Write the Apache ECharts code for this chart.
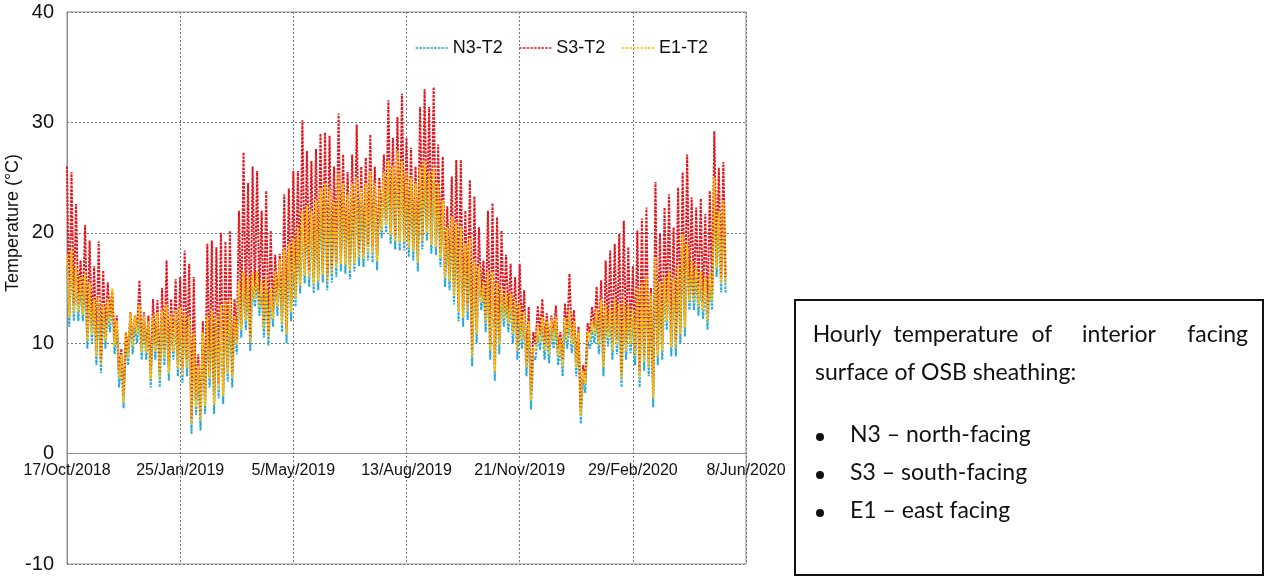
<!DOCTYPE html>
<html>
<head>
<meta charset="utf-8">
<script src="https://cdn.jsdelivr.net/npm/echarts@6/dist/echarts.min.js"></script>
<style>
  html, body { margin: 0; padding: 0; background: #fff; }
  #main { width: 1269px; height: 577px; }
</style>
</head>
<body>
<div id="main"></div>
<script>
// days since 17/Oct/2018; daily highs on days 0,4,8..., daily lows on days 2,6,10...
var STEP_DAYS = 2;
var tickLabels = ['17/Oct/2018', '25/Jan/2019', '5/May/2019', '13/Aug/2019', '21/Nov/2019', '29/Feb/2020', '8/Jun/2020'];

var s3Peaks = [
    26, 25.5, 22.6, 17.5, 20.7, 19.3, 17, 19.2, 16.6, 15.5,
    14.8, 12.5, 9.5, 11, 12.8, 12.5, 15.7, 12.8, 12.5, 14,
    13.9, 15, 17.5, 14, 15.8, 16, 18.4, 17.2, 16, 9,
    12, 19, 19.3, 18.7, 20, 19.2, 20.2, 14, 22, 27.3,
    24.5, 26, 25.6, 22, 23.8, 20.2, 18, 18.1, 23.5, 24,
    25.6, 25.6, 30.2, 27.4, 26.5, 27.6, 29, 29.1, 28.8, 26,
    30.8, 27.1, 25.5, 27.1, 29.8, 26, 26.8, 28.9, 26, 25,
    27.1, 32, 28.6, 30.5, 32.6, 28.6, 27.7, 26, 31.4, 33,
    31.4, 33.2, 28, 26.9, 22.4, 25.1, 26.6, 26.6, 22, 24.8,
    23.3, 20.5, 17.5, 22, 22.7, 21.4, 20.2, 18, 17.2, 16,
    17.2, 14.8, 13.3, 11, 13.4, 14, 12.7, 12.5, 13.4, 11,
    13.6, 16.3, 13, 11.5, 8, 11.8, 13.3, 15.1, 15.7, 17.5,
    18.4, 19, 19.9, 21.1, 18.7, 17, 20.2, 21.3, 22.3, 15,
    24.6, 19.9, 22.3, 23.5, 20.5, 24.1, 25.5, 27.1, 23.2, 22.3,
    23.1, 21.7, 23.8, 29.2, 25.9, 26.4
];
var s3Troughs = [
    12.8, 13.5, 13.4, 13.2, 10.8, 11.4, 9.4, 8.6, 10.8, 12.3,
    10.3, 7.4, 5.2, 9.3, 10.3, 11.4, 9.8, 9.7, 7.3, 9.8,
    7.4, 9.3, 7.9, 9.8, 8.3, 7.7, 8.4, 3.2, 4.8, 3.5,
    4.9, 7.4, 5, 6.4, 5.8, 7.8, 7.4, 10.4, 11.8, 12.6,
    10.6, 14.6, 13.8, 11.9, 11.1, 12.8, 13.9, 12.4, 11.4, 13.4,
    14.7, 15.8, 16.7, 16.5, 15.9, 16.2, 16.8, 16.2, 16.9, 17.4,
    17.8, 17.7, 17.2, 17.8, 18.4, 18.2, 18.8, 18.7, 18, 20.8,
    21.3, 20.4, 19.8, 19.7, 19.8, 19.2, 18.9, 17.9, 19.8, 20.6,
    19.5, 19.3, 18.3, 16.5, 16.2, 14.9, 13.4, 12.9, 13.5, 9.3,
    11.4, 14.3, 12.4, 9.9, 8, 10.4, 12.8, 12.4, 11.4, 9.9,
    10.9, 8.4, 5.4, 9.9, 10.7, 9.9, 9.6, 10.9, 9.4, 8.4,
    10.9, 10.5, 8.4, 4, 6.9, 10.9, 11.4, 10.4, 8.4, 11.1,
    9.9, 10.4, 7.4, 9.9, 10.5, 9.4, 7.4, 8.9, 8.4, 5.6,
    9.4, 9.9, 12.6, 10.2, 10.2, 11.4, 12, 14.4, 14.4, 13.9,
    13.6, 12.6, 14.4, 17.4, 16, 16
];

var e1Peaks = [
    18, 18.5, 17, 16, 16.3, 15.5, 14, 14.2, 13.5, 14,
    15, 12, 9, 11, 12.7, 12.5, 13.5, 12.5, 12, 12.5,
    12.8, 13, 13.5, 12.5, 13, 13.2, 12.8, 12.5, 11, 8,
    11, 12.5, 13, 12.5, 13.5, 13.8, 14, 12.5, 15.5, 16.5,
    16, 16.3, 16.5, 15.5, 16, 15, 16.5, 17.5, 18.5, 19,
    19.5, 20.5, 22, 22.5, 22, 23, 24, 24.5, 24, 23,
    25.5, 24.5, 23.5, 24.5, 25, 24, 24.5, 25.5, 24.5, 24,
    25.5, 26.5, 26, 27.4, 26.5, 25.5, 25, 24.5, 26, 26.5,
    25.5, 26, 24.5, 23, 20.5, 21.5, 21, 20.5, 19, 19.5,
    17.5, 17, 15.5, 16.5, 16.5, 15.5, 15, 14.5, 14.5, 14,
    13.5, 12.8, 12, 9.5, 11.5, 12.4, 12, 12.2, 12.4, 10.5,
    12.3, 13, 12, 11, 7.5, 11, 12, 13, 13.9, 13.5,
    13, 14, 13.5, 13.8, 13.5, 13, 15, 15.5, 16, 14.5,
    17.8, 15.5, 16, 16.5, 16, 17, 19.9, 19, 17.5, 17,
    16.5, 16, 16.3, 25, 22, 22.9
];
var e1Troughs = [
    12.3, 12.7, 12.8, 12.6, 10.2, 10.8, 8.8, 8, 10.2, 11.7,
    9.7, 6.8, 4.6, 8.7, 9.7, 10.8, 9.2, 9.1, 6.7, 9.2,
    6.8, 8.7, 7.3, 9.2, 7.7, 7.1, 7.8, 2.6, 4.2, 2.9,
    4.3, 6.8, 4.4, 5.8, 5.2, 7.2, 6.8, 9.8, 11.2, 12,
    10, 14, 13.2, 11.3, 10.5, 12.2, 13.3, 11.8, 10.8, 12.8,
    14.1, 15.2, 16.1, 15.9, 15.3, 15.6, 16.2, 15.6, 16.3, 16.8,
    17.2, 17.1, 16.6, 17.2, 17.8, 17.6, 18.2, 18.1, 17.4, 20.2,
    20.7, 19.8, 19.2, 19.1, 19.2, 18.6, 18.3, 17.3, 19.2, 20,
    18.9, 18.7, 17.7, 15.9, 15.6, 14.3, 12.8, 12.3, 12.9, 8.7,
    10.8, 13.7, 11.8, 9.3, 7.4, 9.8, 12.2, 11.8, 10.8, 9.3,
    10.3, 7.8, 4.8, 9.3, 10.1, 9.3, 9, 10.3, 8.8, 7.8,
    10.3, 9.9, 7.8, 3.4, 6.3, 10.3, 10.8, 9.8, 7.8, 10.5,
    9.3, 9.8, 6.8, 9.3, 9.9, 8.8, 6.8, 8.3, 7.8, 5,
    8.8, 9.3, 12, 9.6, 9.6, 10.8, 11.4, 13.8, 13.8, 13.3,
    13, 12, 13.8, 16.8, 15.4, 15.4
];

var n3Peaks = [
    17, 17.5, 16, 15, 15.5, 14.5, 13.2, 13.5, 12.8, 13,
    14, 11.2, 8.2, 10.2, 11.8, 11.5, 12.5, 11.8, 11.2, 11.8,
    12, 12.2, 12.5, 11.8, 12.2, 12.3, 12, 11.8, 10.2, 7.2,
    10.2, 11.5, 12.2, 11.8, 12.5, 12.8, 13, 11.8, 14.5, 15.3,
    15, 15.2, 15.5, 14.5, 15, 14.2, 15.5, 16.5, 17.3, 17.8,
    18.3, 19.2, 20.5, 21, 20.8, 21.5, 22.5, 23, 22.5, 21.8,
    24, 23, 22.3, 23, 23.5, 22.8, 23.2, 24, 23.2, 22.8,
    24, 25, 24.5, 25.8, 25, 24.2, 23.8, 23.2, 24.5, 25,
    24.2, 24.5, 23.2, 21.8, 19.5, 20.2, 19.8, 19.3, 18, 18.3,
    16.5, 16, 14.7, 15.5, 15.5, 14.6, 14.2, 13.8, 13.6, 13.2,
    12.7, 12, 11.2, 8.8, 10.8, 11.6, 11.2, 11.4, 11.6, 9.8,
    11.5, 12.2, 11.2, 10.3, 6.8, 10.2, 11.2, 12.2, 13, 12.6,
    12.2, 13, 12.6, 12.9, 12.6, 12.2, 14, 14.5, 15, 13.5,
    16.5, 14.5, 15, 15.5, 15, 16, 18.5, 17.8, 16.5, 16,
    15.5, 15, 15.3, 23.5, 20.8, 21.5
];
var n3Troughs = [
    11.5, 12, 12, 12, 9.5, 10, 8, 7.3, 9.5, 11,
    9, 6, 4.1, 8, 9, 10, 8.5, 8.5, 6, 8.5,
    6, 8, 6.6, 8.5, 7, 6.4, 7, 1.8, 3.5, 2.1,
    3.6, 6, 3.6, 5, 4.5, 6.5, 6, 9, 10.5, 11.2,
    9.3, 13.3, 12.5, 10.5, 9.8, 11.5, 12.5, 11, 10, 12,
    13.3, 14.5, 15.4, 15.1, 14.5, 14.8, 15.5, 14.8, 15.5, 16,
    16.5, 16.3, 15.8, 16.5, 17, 16.9, 17.5, 17.3, 16.6, 19.5,
    20, 19, 18.5, 18.4, 18.4, 17.8, 17.5, 16.5, 18.5, 19.3,
    18.1, 18, 16.9, 15.1, 14.8, 13.5, 12, 11.5, 12.1, 7.9,
    10, 13, 11, 8.5, 6.6, 9, 11.5, 11, 10, 8.5,
    9.5, 7, 4, 8.5, 9.4, 8.5, 8.2, 9.5, 8, 7,
    9.5, 9.1, 7, 2.7, 5.5, 9.5, 10, 9, 7, 9.7,
    8.5, 9, 6, 8.5, 9.1, 8, 6, 7.5, 7, 4.2,
    8, 8.5, 11.2, 8.8, 8.8, 10, 10.6, 13, 13, 12.5,
    12.2, 11.2, 13, 16, 14.6, 14.6
];

function toSeriesData(peaks, troughs) {
    var out = [];
    for (var i = 0; i < peaks.length; i++) {
        out.push([i * 2 * STEP_DAYS, peaks[i]]);
        if (i < troughs.length) out.push([(i * 2 + 1) * STEP_DAYS, troughs[i]]);
    }
    return out;
}

var chart = echarts.init(document.getElementById('main'));

function lineSeries(name, color, peaks, troughs) {
    return {
        name: name,
        type: 'line',
        symbol: 'none',
        showSymbol: false,
        lineStyle: { color: color, width: 2, type: [2.5, 1.2] },
        itemStyle: { color: color },
        data: toSeriesData(peaks, troughs)
    };
}

var yMin = -10, yMax = 40;
var gridTop = 12, gridBottom = 13;
// move the x axis up onto the 0 line, labels with it
var xAxisOffset = -(0 - yMin) * (577 - gridTop - gridBottom) / (yMax - yMin);

var textFont = '23px Lato, "Open Sans", sans-serif';
var axisFont = '"Liberation Sans", Arial, sans-serif';

option = {
    backgroundColor: '#fff',
    animation: false,
    grid: {
        left: 67,
        right: 523,
        top: gridTop,
        bottom: gridBottom,
        containLabel: false,
        outerBoundsMode: 'none',
        show: true,
        borderColor: '#8c8c8c',
        borderWidth: 1
    },
    legend: {
        data: ['N3-T2', 'S3-T2', 'E1-T2'],
        left: 410,
        top: 34,
        itemWidth: 32,
        itemHeight: 10,
        itemGap: 16,
        itemStyle: { opacity: 0 },
        lineStyle: { width: 1.3 },
        textStyle: { fontSize: 18, fontFamily: axisFont, color: '#111' }
    },
    xAxis: {
        type: 'value',
        min: 0,
        max: 600,
        interval: 100,
        offset: xAxisOffset,
        axisLine: { onZero: false, lineStyle: { color: '#8c8c8c' } },
        axisTick: { show: false },
        axisLabel: {
            color: '#111',
            fontSize: 16,
            fontFamily: axisFont,
            margin: 9,
            formatter: function (v) { return tickLabels[Math.round(v / 100)]; }
        },
        splitLine: { show: true, lineStyle: { color: '#777', type: [2, 2], width: 1 } }
    },
    yAxis: {
        type: 'value',
        min: yMin,
        max: yMax,
        interval: 10,
        name: 'Temperature (°C)',
        nameLocation: 'middle',
        nameGap: 45,
        nameMoveOverlap: false,
        nameTextStyle: { fontSize: 18, fontFamily: axisFont, color: '#111', padding: [0, 0, 0, 130] },
        axisLine: { show: true, lineStyle: { color: '#8c8c8c' } },
        axisTick: { show: false },
        axisLabel: {
            color: '#111',
            fontSize: 20,
            fontFamily: axisFont,
            margin: 13
        },
        splitLine: { show: true, lineStyle: { color: '#777', type: [2, 2], width: 1 } }
    },
    series: [
        lineSeries('N3-T2', '#22a8df', n3Peaks, n3Troughs),
        lineSeries('S3-T2', '#e3141c', s3Peaks, s3Troughs),
        lineSeries('E1-T2', '#ffbf00', e1Peaks, e1Troughs)
    ],
    graphic: [
        { type: 'rect', shape: { x: 795, y: 300, width: 468, height: 275 }, style: { fill: 'none', stroke: '#111', lineWidth: 2 } },
        { type: 'text', x: 847, y: 335, style: { text: 'Hourly', font: textFont, fill: '#111', align: 'center', verticalAlign: 'middle' } },
        { type: 'text', x: 956, y: 335, style: { text: 'temperature', font: textFont, fill: '#111', align: 'center', verticalAlign: 'middle' } },
        { type: 'text', x: 1042, y: 335, style: { text: 'of', font: textFont, fill: '#111', align: 'center', verticalAlign: 'middle' } },
        { type: 'text', x: 1119, y: 335, style: { text: 'interior', font: textFont, fill: '#111', align: 'center', verticalAlign: 'middle' } },
        { type: 'text', x: 1248, y: 335, style: { text: 'facing', font: textFont, fill: '#111', align: 'right', verticalAlign: 'middle' } },
        { type: 'text', x: 815, y: 373, style: { text: 'surface of OSB sheathing:', font: textFont, fill: '#111', verticalAlign: 'middle' } },
        { type: 'circle', shape: { cx: 820, cy: 437, r: 4 }, style: { fill: '#111' } },
        { type: 'circle', shape: { cx: 820, cy: 475, r: 4 }, style: { fill: '#111' } },
        { type: 'circle', shape: { cx: 820, cy: 513, r: 4 }, style: { fill: '#111' } },
        { type: 'text', x: 850, y: 435, style: { text: 'N3 – north-facing', font: textFont, fill: '#111', verticalAlign: 'middle' } },
        { type: 'text', x: 850, y: 473, style: { text: 'S3 – south-facing', font: textFont, fill: '#111', verticalAlign: 'middle' } },
        { type: 'text', x: 850, y: 511, style: { text: 'E1 – east facing', font: textFont, fill: '#111', verticalAlign: 'middle' } }
    ]
};
chart.setOption(option);
</script>
</body>
</html>
